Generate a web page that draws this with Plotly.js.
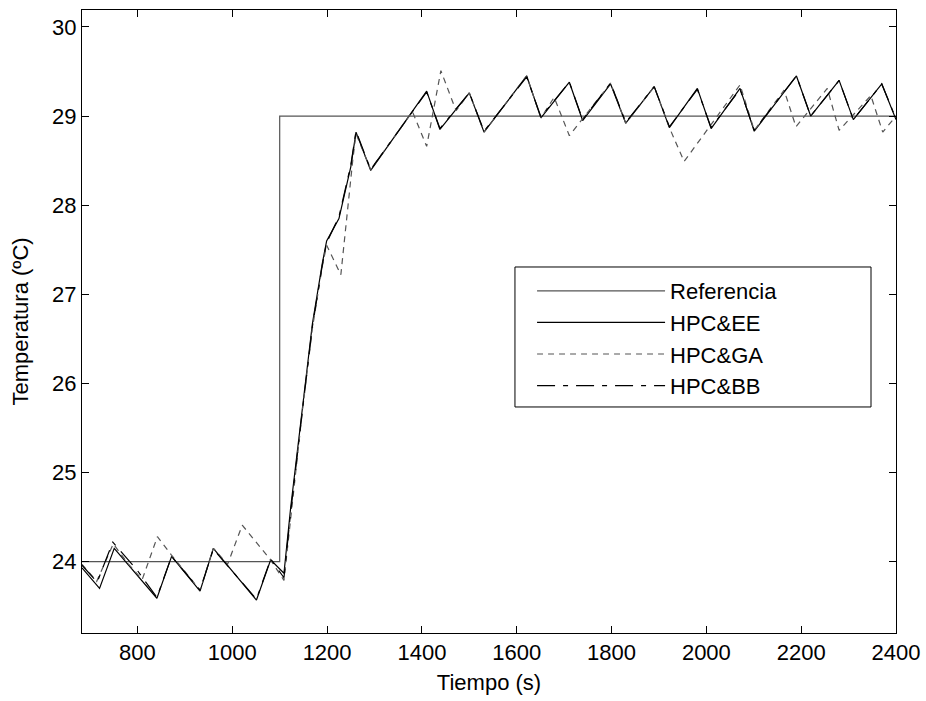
<!DOCTYPE html>
<html>
<head>
<meta charset="utf-8">
<script src="https://cdn.plot.ly/plotly-3.0.1.min.js"></script>
<style>html,body{margin:0;padding:0;background:#fff}#chart{width:926px;height:701px}</style>
</head>
<body>
<div id="chart"></div>
<script>
// Referencia (setpoint)
const refX = [683, 1100, 1100, 2400];
const refY = [24, 24, 29, 29];

// HPC&EE
const eeX = [683, 720, 751, 841, 872, 932, 960, 1051, 1081, 1109, 1123, 1148, 1169, 1190, 1199, 1225, 1250, 1261, 1292, 1410, 1438, 1500, 1531, 1621, 1651, 1711, 1739, 1798, 1830, 1890, 1922, 1981, 2010, 2071, 2101, 2190, 2220, 2280, 2310, 2370, 2400];
const eeY = [23.93, 23.70, 24.15, 23.59, 24.06, 23.67, 24.15, 23.57, 24.02, 23.87, 24.60, 25.74, 26.67, 27.35, 27.60, 27.85, 28.43, 28.82, 28.39, 29.28, 28.85, 29.26, 28.82, 29.45, 28.98, 29.38, 28.95, 29.36, 28.92, 29.33, 28.87, 29.31, 28.86, 29.31, 28.83, 29.45, 29.00, 29.40, 28.96, 29.36, 28.96];

// HPC&GA
const gaX = [683, 714, 749, 780, 810, 842, 871, 932, 960, 990, 1021, 1081, 1109, 1123, 1148, 1169, 1190, 1199, 1229, 1254, 1261, 1292, 1380, 1410, 1440, 1472, 1500, 1531, 1621, 1651, 1679, 1711, 1739, 1798, 1830, 1890, 1922, 1953, 2071, 2101, 2164, 2189, 2255, 2280, 2347, 2372, 2400];
const gaY = [23.97, 23.78, 24.20, 23.98, 23.80, 24.28, 24.08, 23.68, 24.15, 23.97, 24.41, 24.02, 23.79, 24.50, 25.70, 26.62, 27.32, 27.55, 27.22, 28.50, 28.80, 28.40, 29.05, 28.66, 29.51, 29.06, 29.26, 28.82, 29.45, 28.98, 29.21, 28.78, 28.97, 29.37, 28.92, 29.33, 28.87, 28.49, 29.35, 28.84, 29.29, 28.88, 29.31, 28.84, 29.23, 28.82, 29.00];

// HPC&BB
const bbX = [683, 715, 748, 800, 841, 872, 932, 960, 1051, 1081, 1109, 1123, 1148, 1169, 1190, 1199, 1225, 1250, 1261, 1292, 1410, 1438, 1500, 1531, 1621, 1651, 1711, 1739, 1798, 1830, 1890, 1922, 1981, 2010, 2071, 2101, 2190, 2220, 2280, 2310, 2370, 2400];
const bbY = [23.96, 23.77, 24.22, 23.90, 23.60, 24.06, 23.68, 24.14, 23.58, 24.03, 23.82, 24.55, 25.70, 26.64, 27.33, 27.58, 27.87, 28.45, 28.83, 28.40, 29.27, 28.86, 29.26, 28.83, 29.44, 28.99, 29.38, 28.96, 29.37, 28.93, 29.33, 28.88, 29.30, 28.87, 29.30, 28.84, 29.45, 29.00, 29.40, 28.96, 29.36, 28.97];

const xTicks = [800, 1000, 1200, 1400, 1600, 1800, 2000, 2200, 2400];
const yTicks = [24, 25, 26, 27, 28, 29, 30];

const FONT = '"Liberation Sans", Arial, sans-serif';

const traces = [
  {x: refX, y: refY, name: 'Referencia', mode: 'lines', line: {color: '#555', width: 1.2}},
  {x: eeX, y: eeY, name: 'HPC&amp;EE', mode: 'lines', line: {color: '#000', width: 1.2}},
  {x: gaX, y: gaY, name: 'HPC&amp;GA', mode: 'lines', line: {color: '#555', width: 1.2, dash: '6px,5px'}},
  {x: bbX, y: bbY, name: 'HPC&amp;BB', mode: 'lines', line: {color: '#000', width: 1.2, dash: '18px,8px,5px,8px'}}
];

const axisCommon = {
  showline: true, linecolor: '#000', linewidth: 1, mirror: 'ticks',
  ticks: 'inside', ticklen: 7, tickcolor: '#000', tickwidth: 1,
  showgrid: false, zeroline: false, tickfont: {family: FONT, size: 22, color: '#000'}
};

const layout = {
  width: 926, height: 701,
  margin: {l: 82, r: 30, t: 10, b: 68},
  paper_bgcolor: '#fff', plot_bgcolor: '#fff',
  font: {family: FONT, size: 22, color: '#000'},
  showlegend: true,
  legend: {
    x: 0.5529, y: 0.5827, xanchor: 'left', yanchor: 'top',
    borderwidth: 0, bgcolor: 'rgba(0,0,0,0)',
    font: {family: FONT, size: 22, color: '#000'},
    itemwidth: 128, tracegroupgap: 0
  },
  shapes: [{
    type: 'rect', xref: 'paper', yref: 'paper', layer: 'above',
    x0: 0.5319, x1: 0.9693, y0: 0.3628, y1: 0.5875,
    line: {color: '#000', width: 1}, fillcolor: '#fff'
  }],
  xaxis: Object.assign({}, axisCommon, {
    range: [683, 2400], tickvals: xTicks, ticktext: xTicks.map(String),
    title: {text: 'Tiempo (s)', font: {family: FONT, size: 22, color: '#000'}, standoff: 10}
  }),
  yaxis: Object.assign({}, axisCommon, {
    range: [23.2, 30.19], tickvals: yTicks, ticktext: yTicks.map(String),
    title: {text: 'Temperatura (ºC)', font: {family: FONT, size: 22, color: '#000'}, standoff: 17}
  })
};

Plotly.newPlot('chart', traces, layout, {displayModeBar: false, staticPlot: true});
</script>
</body>
</html>
